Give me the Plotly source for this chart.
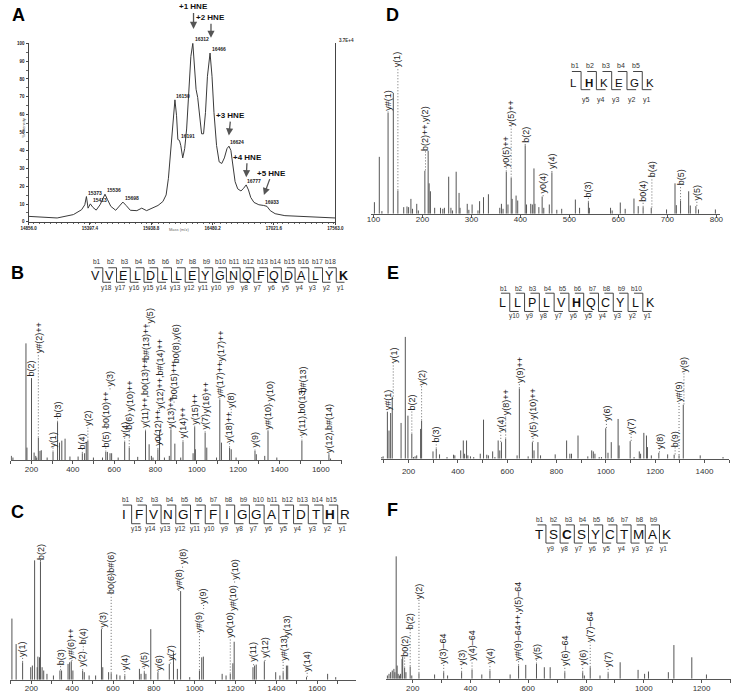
import plotly.graph_objects as go

W, H = 741, 696

# ---------------- Panel A : intact protein spectrum ----------------
A_mass = [14856.0, 14965.1, 15108.6, 15252.1, 15323.9, 15352.6, 15367.0, 15381.3, 15401.4, 15424.4,
          15453.1, 15487.5, 15510.5, 15530.6, 15553.6, 15582.3, 15625.3, 15659.8, 15688.5, 15717.2,
          15754.5, 15811.9, 15855.0, 15898.0, 15941.1, 15998.5, 16041.6, 16070.3, 16090.4, 16113.3,
          16133.4, 16147.8, 16162.1, 16173.6, 16188.0, 16199.5, 16216.7, 16233.9, 16251.1, 16271.2,
          16288.5, 16305.7, 16320.0, 16334.4, 16348.7, 16365.9, 16383.2, 16400.4, 16417.6, 16434.8,
          16457.8, 16475.0, 16492.2, 16515.2, 16538.2, 16561.1, 16584.1, 16607.1, 16624.3, 16641.5,
          16658.7, 16678.8, 16701.8, 16730.5, 16753.5, 16776.5, 16796.6, 16816.7, 16845.4, 16888.4,
          16931.5, 16960.2, 16988.9, 17032.0, 17118.1, 17261.6, 17405.1, 17563.0]
A_int = [3.1, 2.6, 2.2, 4.1, 6.8, 9.6, 14.2, 7.7, 10.1, 8.1,
         6.6, 9.6, 13.3, 15.5, 12.4, 8.7, 6.5, 9.2, 11.1, 9.2,
         6.5, 6.3, 7.7, 6.3, 7.7, 9.2, 11.4, 15.1, 24.4, 41.0,
         59.4, 68.3, 59.4, 46.1, 45.6, 42.8, 35.8, 41.0, 52.0, 76.0,
         92.6, 100.0, 87.1, 74.2, 69.6, 57.6, 49.3, 49.3, 61.3, 81.5,
         94.5, 81.5, 61.3, 42.8, 33.6, 32.7, 35.8, 41.0, 42.4, 40.0,
         31.7, 22.5, 18.5, 17.3, 18.8, 20.7, 17.9, 13.7, 10.9, 9.6,
         9.2, 8.7, 6.3, 4.6, 3.5, 3.0, 2.6, 2.2]
A_peak_mass = [15373, 15413, 15536, 15698, 16150, 16191, 16312, 16466, 16624, 16777, 16933]
A_peak_int = [14.2, 10.1, 15.5, 11.1, 68.3, 45.6, 100.0, 94.5, 42.4, 20.7, 8.7]
A_hne_text = ["+1 HNE", "+2 HNE", "+3 HNE", "+4 HNE", "+5 HNE"]
A_hne_mass = [16312, 16466, 16624, 16777, 16933]
A_hne_tip = [108.0, 103.0, 48.3, 25.0, 15.0]
A_xticks = [14856.0, 15397.4, 15938.8, 16480.2, 17021.6, 17563.0]
A_yticks = [0, 10, 20, 30, 40, 50, 60, 70, 80, 90, 100]

# ---------------- Panel B ----------------
B_seq = "VVELDLLEYGNQFQDALYK"
B_mod = [18]
B_mz = [102.2, 110.1, 173.2, 177.9, 200.0, 212.6, 220.5, 225.2, 233.1, 241.0, 247.3, 275.7, 304.1,
        326.1, 335.6, 346.6, 362.4, 386.0, 425.5, 446.0, 457.0, 464.9, 472.8, 499.6, 543.7, 559.5,
        567.3, 580.0, 587.8, 619.4, 650.9, 673.0, 714.0, 751.8, 769.2, 780.2, 788.1, 811.7, 819.6,
        843.3, 866.9, 874.8, 893.7, 922.1, 933.1, 982.0, 989.9, 993.0, 1040.3, 1048.2, 1095.5,
        1111.3, 1119.2, 1158.6, 1166.5, 1190.1, 1281.5, 1287.9, 1328.8, 1344.6, 1387.2, 1508.6,
        1639.4, 1647.3]
B_int = [13, 8, 353, 38, 248, 23, 13, 8, 68, 28, 30, 8, 25, 115, 53, 59, 65, 11, 11, 21, 21, 55, 58,
         8, 8, 25, 25, 21, 21, 8, 55, 38, 10, 88, 48, 13, 8, 33, 88, 8, 13, 93, 50, 8, 56, 21, 100,
         33, 83, 38, 8, 183, 53, 38, 33, 8, 28, 18, 13, 88, 8, 58, 18, 5]
B_lab_mz = [200.0, 233.1, 304.1, 326.1, 446.0, 472.8, 559.5, 564.0, 580.0, 650.9, 673.0, 676.0,
            751.8, 757.0, 769.2, 811.7, 819.6, 874.8, 890.0, 897.0, 933.1, 989.9, 1040.3, 1048.2,
            1111.3, 1119.2, 1158.6, 1166.5, 1281.5, 1344.6, 1352.5, 1508.6, 1512.0, 1639.4]
B_lab_text = ["b(2)", "y#(2)++", "y(1)", "b(3)", "b(4)", "y(2)", "b(5)", "b0(10)++", "y(3)", "y(4)",
              "b(6)", "y(10)++", "y(11)++,b0(13)++", "b#(13)++", "y(5)", "y0(12)++",
              "y(12)++,b#(14)++", "y(13)++", "b0(15)++", "b0(8),y(6)", "y(14)++", "y(15)++", "y(7)",
              "y(16)++", "y#(17)++", "y(17)++", "y(18)++", "y(8)", "y(9)", "y#(10)", "y(10)",
              "y(11),b0(13)", "b#(13)", "y(12),b#(14)"]
B_lab_from = [248, 68, 25, 115, 21, 58, 25, 93, 213, 55, 38, 138, 88, 293, 403, 33, 148, 93, 173,
              283, 56, 100, 83, 133, 183, 293, 38, 133, 28, 88, 168, 58, 193, 18]
B_lab_at = [251, 323, 38, 128, 33, 103, 38, 98, 223, 68, 93, 148, 98, 303, 413, 43, 153, 98, 183,
            293, 68, 108, 93, 143, 188, 298, 53, 158, 38, 93, 178, 73, 203, 23]
B_xticks = list(range(100, 1701, 100))

# ---------------- Panel C ----------------
C_seq = "IFVNGTFIGGATDTHR"
C_mod = [14]
C_mz = [104.6, 125.3, 157.1, 196.8, 204.8, 215.9, 228.6, 231.8, 239.8, 244.5, 252.5, 260.4, 276.3,
        308.1, 339.9, 347.9, 379.7, 387.6, 395.6, 403.5, 451.2, 459.2, 483.0, 514.8, 543.4, 549.8,
        578.4, 591.1, 618.2, 634.1, 657.9, 729.5, 737.4, 753.3, 761.3, 785.1, 820.1, 875.8, 896.4,
        915.5, 931.4, 975.9, 1023.6, 1034.8, 1042.7, 1134.9, 1154.0, 1174.7, 1187.4, 1193.8,
        1286.0, 1293.9, 1301.9, 1341.6, 1397.3, 1417.9, 1433.8, 1449.7, 1456.1, 1548.3, 1651.7,
        1691.4]
C_int = [185, 108, 53, 38, 43, 361, 38, 70, 68, 358, 38, 28, 18, 13, 28, 28, 48, 53, 56, 28, 28, 23,
         13, 13, 153, 38, 23, 20, 16, 13, 13, 33, 18, 23, 18, 153, 23, 48, 83, 33, 268, 8, 28, 68, 70,
         18, 13, 18, 50, 115, 38, 43, 46, 56, 23, 13, 23, 43, 43, 8, 18, 8]
C_lab_mz = [157.1, 244.5, 343.1, 398.8, 451.2, 454.4, 546.6, 591.1, 592.0, 657.9, 753.3, 821.7,
            880.5, 921.9, 941.0, 1023.6, 1044.0, 1174.7, 1187.4, 1196.0, 1289.0, 1344.8, 1433.8,
            1456.1, 1551.5]
C_lab_text = ["y(1)", "b(2)", "b(3)", "y#(6)++", "y(2)", "b(4)", "y(3)", "b0(6)", "b#(6)", "y(4)",
              "y(5)", "y(6)", "y(7)", "y#(8)", "y(8)", "y#(9)", "y(9)", "y0(10)", "y#(10)", "y(10)",
              "y(11)", "y(12)", "y#(13)", "y(13)", "y(14)"]
C_lab_from = [53, 358, 28, 56, 28, 88, 153, 20, 313, 13, 23, 23, 48, 268, 338, 28, 213, 18, 198,
              293, 43, 56, 23, 123, 8]
C_lab_at = [68, 363, 43, 63, 38, 108, 158, 258, 323, 28, 38, 28, 58, 273, 348, 143, 228, 128, 208,
            303, 53, 68, 58, 133, 23]
C_xticks = list(range(100, 1801, 100))

# ---------------- Panel D ----------------
D_seq = "LHKEGK"
D_mod = [1]
D_mz = [102.0, 112.0, 117.3, 129.9, 140.6, 149.9, 161.8, 168.5, 171.8, 176.5, 179.8, 188.4, 191.7,
        205.0, 211.7, 213.7, 216.3, 225.0, 236.9, 241.6, 244.9, 253.6, 258.2, 261.5, 268.9, 274.8,
        276.8, 291.5, 294.8, 301.4, 313.4, 316.7, 324.7, 334.7, 357.9, 361.3, 364.6, 371.2, 374.6,
        381.2, 383.2, 391.2, 394.5, 409.8, 412.5, 421.1, 424.4, 427.7, 429.7, 437.7, 444.4, 447.7,
        459.0, 464.3, 474.3, 484.3, 512.2, 520.8, 538.8, 540.8, 584.0, 587.3, 603.9, 613.9, 631.8,
        640.5, 650.5, 667.1, 698.3, 715.6, 718.3, 726.9, 743.5, 746.8, 758.2, 763.5, 798.0]
D_int = [35, 172, 8, 305, 365, 70, 20, 22, 20, 45, 15, 30, 10, 130, 190, 92, 68, 18, 18, 15, 18, 112,
         18, 10, 127, 63, 18, 30, 12, 28, 10, 38, 50, 59, 18, 30, 15, 127, 28, 108, 45, 55, 40, 207,
         28, 30, 28, 137, 30, 20, 52, 18, 28, 125, 12, 15, 43, 18, 35, 18, 18, 10, 34, 15, 46, 23,
         20, 18, 13, 92, 26, 40, 68, 25, 23, 13, 13]
D_lab_mz = [129.9, 149.9, 206.3, 371.2, 381.2, 409.8, 446.4, 464.3, 538.8, 650.5, 668.4, 726.9, 760.2]
D_lab_text = ["y#(1)", "y(1)", "b(2)++,y(2)", "y0(5)++", "y(5)++", "b(2)", "y0(4)", "y(4)", "b(3)",
              "b0(4)", "b(4)", "b(5)", "y(5)"]
D_lab_from = [305, 70, 130, 127, 108, 207, 52, 125, 35, 20, 18, 40, 23]
D_lab_at = [310, 442, 190, 140, 265, 215, 60, 135, 50, 35, 110, 85, 40]
D_xticks = list(range(100, 801, 100))

# ---------------- Panel E ----------------
E_seq = "LLPLVHQCYLK"
E_mod = [5]
E_mz = [91.6, 96.9, 114.1, 120.7, 127.3, 133.9, 169.6, 186.8, 197.4, 213.2, 219.8, 226.4, 233.0,
        248.9, 252.9, 299.1, 312.3, 325.6, 355.9, 382.4, 387.7, 411.5, 422.0, 427.3, 435.2, 440.5,
        451.1, 464.3, 490.8, 504.0, 517.2, 523.8, 541.0, 550.2, 563.4, 570.0, 576.7, 593.8, 640.1,
        649.3, 685.0, 702.2, 708.8, 724.7, 735.2, 794.7, 841.0, 854.2, 860.8, 887.2, 926.9, 942.7,
        949.3, 955.9, 973.1, 982.4, 999.6, 1008.8, 1022.0, 1049.8, 1053.8, 1098.7, 1114.5, 1135.7,
        1141.0, 1154.2, 1164.8, 1168.7, 1184.6, 1215.0, 1250.7, 1277.1, 1296.9, 1314.1, 1382.8,
        1475.3]
E_int = [5, 7, 142, 85, 138, 187, 108, 368, 130, 75, 5, 7, 10, 90, 115, 22, 30, 13, 5, 12, 10, 25, 55,
         15, 55, 10, 7, 5, 15, 118, 12, 10, 22, 5, 55, 25, 50, 60, 10, 212, 7, 50, 25, 50, 10, 13, 55,
         15, 15, 70, 7, 25, 22, 15, 5, 5, 92, 18, 50, 120, 40, 53, 5, 22, 15, 78, 70, 35, 10, 18, 13,
         12, 10, 163, 10, 5]
E_lab_mz = [116.7, 137.9, 213.2, 252.9, 312.3, 574.0, 593.8, 649.3, 704.8, 708.0, 1002.3, 1102.7,
            1217.6, 1281.0, 1296.9, 1316.8]
E_lab_text = ["y#(1)", "y(1)", "b(2)", "y(2)", "b(3)", "y(4)", "y(8)++", "y(9)++", "y(5)", "y(10)++",
              "y(6)", "y(7)", "y(8)", "b(9)", "y#(9)", "y(9)"]
E_lab_from = [142, 187, 75, 115, 30, 50, 60, 212, 50, 115, 92, 53, 18, 12, 10, 163]
E_lab_at = [145, 290, 145, 220, 50, 80, 130, 230, 65, 120, 115, 75, 30, 35, 170, 260]
E_xticks = list(range(100, 1501, 100))

# ---------------- Panel F ----------------
F_seq = "TSCSYCTMAK"
F_mod = [2]
F_mz = [112.1, 117.7, 123.3, 129.0, 134.6, 138.0, 142.5, 145.9, 149.3, 153.8, 157.2, 162.8, 165.1,
        171.8, 176.3, 191.0, 196.6, 221.4, 275.5, 307.1, 320.6, 369.1, 405.2, 439.0, 467.2, 537.1,
        566.4, 591.2, 628.4, 655.5, 675.8, 726.5, 788.5, 794.1, 814.4, 848.3, 876.4, 918.1, 980.1,
        1002.7, 1016.2, 1085.0, 1104.2, 1166.2, 1216.9]
F_int = [10, 15, 20, 25, 30, 20, 370, 40, 15, 10, 15, 60, 67, 33, 20, 37, 10, 17, 13, 20, 10, 20, 27,
         13, 25, 13, 40, 42, 45, 35, 35, 20, 20, 10, 35, 10, 17, 50, 27, 15, 22, 20, 102, 65, 13]
F_lab_mz = [171.8, 191.0, 221.4, 307.1, 369.1, 405.2, 467.2, 566.4, 628.4, 726.5, 788.5, 814.4, 876.4]
F_lab_text = ["b0(2)", "b(2)", "y(2)", "y(3)–64", "y(3)", "y(4)–64", "y(4)", "y#(9)–64++,y(5)–64",
              "y(5)", "y(6)–64", "y(6)", "y(7)–64", "y(7)"]
F_lab_from = [33, 37, 17, 20, 20, 27, 25, 40, 45, 20, 20, 35, 17]
F_lab_at = [67, 150, 240, 45, 40, 53, 45, 55, 60, 40, 40, 110, 35]
F_xticks = list(range(100, 1301, 100))

# ------------------------------------------------------------------
FONT = "Liberation Sans, Arial, sans-serif"
fig = go.Figure()
ann = []
layout = {}


def fx(p):
    return p / W


def fy(p):
    return 1 - p / H


def add_spectrum(n, mz, inten, lab_mz, lab_text, lab_from, lab_at, ticks, label_every,
                 xdom, xrng, base_px, top_px, standoff=0, lab_size=9):
    xa, ya = f"x{n}", f"y{n}"
    sx, sy = [], []
    for m, h in zip(mz, inten):
        sx += [m, m, None]
        sy += [0, h, None]
    fig.add_trace(go.Scatter(x=sx, y=sy, mode="lines", line=dict(color="#555555", width=1),
                             xaxis=xa, yaxis=ya, hoverinfo="skip", showlegend=False))
    dx, dy = [], []
    for m, f, a in zip(lab_mz, lab_from, lab_at):
        if a - f > 4:
            dx += [m, m, None]
            dy += [f + 1, a, None]
    fig.add_trace(go.Scatter(x=dx, y=dy, mode="lines",
                             line=dict(color="#6a6a6a", width=1, dash="1px,2px"),
                             xaxis=xa, yaxis=ya, hoverinfo="skip", showlegend=False))
    for m, t, a in zip(lab_mz, lab_text, lab_at):
        ann.append(dict(x=m, y=a, xref=xa, yref=ya, text=t, textangle=-90, showarrow=False,
                        xanchor="center", yanchor="bottom", borderpad=0, borderwidth=0,
                        font=dict(family=FONT, size=lab_size, color="#222")))
    layout[f"xaxis{n}"] = dict(
        domain=[fx(xdom[0]), fx(xdom[1])], range=xrng, anchor=ya, showline=True,
        linecolor="#555", linewidth=1, ticks="outside", ticklen=3, tickcolor="#555",
        tickvals=ticks, ticktext=[str(v) if v % label_every == 0 else "" for v in ticks],
        tickfont=dict(family=FONT, size=8, color="#333"), ticklabelstandoff=standoff,
        showgrid=False, zeroline=False, fixedrange=True)
    layout[f"yaxis{n}"] = dict(domain=[fy(base_px), fy(top_px)], range=[0, (base_px - top_px) * 3],
                               visible=False, anchor=xa, fixedrange=True)


def add_sequence(seq, mods, x0, x1, y_letter, y_top, y_bot, y_blab, y_ylab, fsize, lsize=6.5):
    n = len(seq)
    s = (x1 - x0) / (n - 1)
    xs = [x0 + i * s for i in range(n)]
    lx, ly = [], []
    for k in range(1, n):
        xb = (xs[k - 1] + xs[k]) / 2
        lx += [xs[k - 1] - 0.1 * s, xb, xb, xs[k] + 0.1 * s, None]
        ly += [y_top, y_top, y_bot, y_bot, None]
        ann.append(dict(x=xs[k - 1] + 0.1 * s, y=y_blab, xref="x7", yref="y7", text=f"b{k}",
                        showarrow=False, font=dict(family=FONT, size=lsize, color="#333")))
        ann.append(dict(x=xs[k] - 0.2 * s, y=y_ylab, xref="x7", yref="y7", text=f"y{n - k}",
                        showarrow=False, font=dict(family=FONT, size=lsize, color="#333")))
    fig.add_trace(go.Scatter(x=lx, y=ly, mode="lines", line=dict(color="#444", width=1),
                             xaxis="x7", yaxis="y7", hoverinfo="skip", showlegend=False))
    for i, c in enumerate(seq):
        txt = f"<b>{c}</b>" if i in mods else c
        ann.append(dict(x=xs[i], y=y_letter, xref="x7", yref="y7", text=txt, showarrow=False,
                        font=dict(family=FONT, size=fsize, color="#111")))


# ---- Panel A
A_top_px, A_base_px = 41.5, 221.5
fig.add_trace(go.Scatter(x=A_mass, y=A_int, mode="lines", line=dict(color="#3a3a3a", width=1),
                         xaxis="x", yaxis="y", hoverinfo="skip", showlegend=False))
for m, v in zip(A_peak_mass, A_peak_int):
    ann.append(dict(x=m, y=v, xref="x", yref="y", text=f"<b>{m}</b>", showarrow=False,
                    xanchor="left", yanchor="bottom", yshift=0, borderpad=0,
                    font=dict(family=FONT, size=5, color="#222")))
hne_off = [(0, -22), (0, -20), (2, -20), (1, -20), (8, -22)]
for t, m, tip, (ax, ay) in zip(A_hne_text, A_hne_mass, A_hne_tip, hne_off):
    # the arrow tips of +1/+2 lie above the 100 % line, so they are placed on the pixel overlay
    tip_px = A_base_px - tip * (A_base_px - A_top_px) / 100.0
    ann.append(dict(x=m, y=tip_px, xref="x", yref="y7", text=f"<b>{t}</b>", showarrow=True,
                    ax=ax, ay=ay, arrowhead=2, arrowsize=1.1, arrowwidth=1.3, arrowcolor="#555",
                    standoff=0, font=dict(family=FONT, size=8, color="#111")))
layout["xaxis"] = dict(domain=[fx(21), fx(335)], range=[A_xticks[0], A_xticks[-1]], anchor="y",
                       showline=True, linecolor="#444", linewidth=1, ticks="outside", ticklen=2,
                       tickcolor="#444", tickvals=A_xticks,
                       ticktext=[f"<b>{v:.1f}</b>" for v in A_xticks],
                       tickfont=dict(family=FONT, size=4.5, color="#222"),
                       minor=dict(ticks="outside", ticklen=1.5, tickcolor="#666", nticks=20),
                       showgrid=False, zeroline=False, fixedrange=True)
layout["yaxis"] = dict(domain=[fy(A_base_px), fy(A_top_px)], range=[0, 100], anchor="x",
                       showline=True, mirror=True, linecolor="#444", linewidth=1, ticks="outside",
                       ticklen=2, tickcolor="#444", tickvals=A_yticks,
                       ticktext=[f"<b>{v}</b>" for v in A_yticks],
                       tickfont=dict(family=FONT, size=4.5, color="#222"),
                       minor=dict(ticks="outside", ticklen=1.5, tickcolor="#666", dtick=5),
                       showgrid=False, zeroline=False, fixedrange=True)

# ---- Panels B-F
add_spectrum(2, B_mz, B_int, B_lab_mz, B_lab_text, B_lab_from, B_lab_at, B_xticks, 200,
             (2.7, 341.7), [99, 1702], 461.5, 300, standoff=-2)
add_spectrum(3, C_mz, C_int, C_lab_mz, C_lab_text, C_lab_from, C_lab_at, C_xticks, 200,
             (2.0, 356.0), [95, 1790], 682.7, 540, standoff=-2)
add_spectrum(4, D_mz, D_int, D_lab_mz, D_lab_text, D_lab_from, D_lab_at, D_xticks, 100,
             (371.5, 728.5), [95, 807], 213.3, 38, standoff=-5)
add_spectrum(5, E_mz, E_int, E_lab_mz, E_lab_text, E_lab_from, E_lab_at, E_xticks, 200,
             (381.7, 738.3), [88, 1501], 460.0, 330, standoff=2)
add_spectrum(6, F_mz, F_int, F_lab_mz, F_lab_text, F_lab_from, F_lab_at, F_xticks, 200,
             (386.5, 740.0), [106, 1302], 681.7, 550, standoff=-1)

# ---- overlay (pixel) axis for decorations
layout["xaxis7"] = dict(domain=[0, 1], range=[0, W], anchor="y7", visible=False, fixedrange=True)
layout["yaxis7"] = dict(domain=[0, 1], range=[H, 0], anchor="x7", visible=False, fixedrange=True)

add_sequence(B_seq, B_mod, 90, 343, 275.5, 267.7, 282.3, 261.3, 288.5, 12.5)
add_sequence(C_seq, C_mod, 119, 345, 516.7, 506.7, 525.5, 501.5, 531.0, 13.5)
add_sequence(D_seq, D_mod, 578.7, 657, 81.7, 70.0, 88.3, 64.3, 98.3, 11.5, 7)
add_sequence(E_seq, E_mod, 506, 657.3, 302.7, 293.3, 311.7, 288.3, 316.7, 12.5)
add_sequence(F_seq, F_mod, 543.3, 674, 536.7, 526.7, 545.0, 521.7, 550.7, 13.5)

panel_letters = ["A", "B", "C", "D", "E", "F"]
letter_pos = [(10.5, 13.5), (10, 272.5), (9.5, 514), (394, 13.5), (394, 273), (394, 511.5)]
for L, (px_, py_) in zip(panel_letters, letter_pos):
    ann.append(dict(x=px_, y=py_, xref="x7", yref="y7", text=f"<b>{L}</b>", showarrow=False,
                    font=dict(family=FONT, size=18, color="#000")))

ann.append(dict(x=15, y=127, xref="x7", yref="y7", text="% Intensity", textangle=-90,
                showarrow=False, font=dict(family=FONT, size=4, color="#444")))
ann.append(dict(x=175, y=229, xref="x7", yref="y7", text="Mass (m/z)", showarrow=False,
                font=dict(family=FONT, size=4, color="#666")))
ann.append(dict(x=337, y=39, xref="x7", yref="y7", text="<b>3.7E+4</b>", showarrow=False,
                xanchor="left", font=dict(family=FONT, size=4.5, color="#333")))

fig.update_layout(width=W, height=H, autosize=False, margin=dict(l=0, r=0, t=0, b=0),
                  paper_bgcolor="white", plot_bgcolor="rgba(0,0,0,0)", showlegend=False,
                  annotations=ann, **layout)

fig.write_html("out.html", config={"displayModeBar": False},
               post_script="document.body.style.margin='0';document.body.style.overflow='hidden';")
